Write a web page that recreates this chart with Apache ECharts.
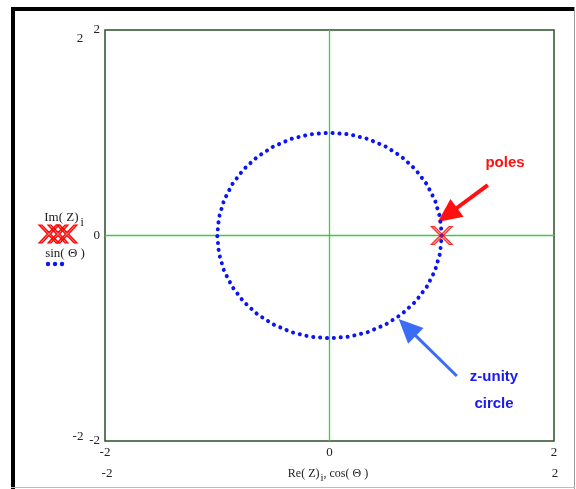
<!DOCTYPE html>
<html>
<head>
<meta charset="utf-8">
<script src="https://cdn.jsdelivr.net/npm/echarts@6/dist/echarts.min.js"></script>
<style>
  html, body { margin: 0; padding: 0; background: #fff; }
  #chart { width: 576px; height: 489px; }
</style>
</head>
<body>
<div id="chart"></div>
<script>
// Unit circle sampled every 10 degrees: cos(Θ), sin(Θ)
const cosTheta = [1, 0.985, 0.940, 0.866, 0.766, 0.643, 0.5, 0.342, 0.174, 0,
  -0.174, -0.342, -0.5, -0.643, -0.766, -0.866, -0.940, -0.985, -1,
  -0.985, -0.940, -0.866, -0.766, -0.643, -0.5, -0.342, -0.174, 0,
  0.174, 0.342, 0.5, 0.643, 0.766, 0.866, 0.940, 0.985, 1];
const sinTheta = [0, 0.174, 0.342, 0.5, 0.643, 0.766, 0.866, 0.940, 0.985, 1,
  0.985, 0.940, 0.866, 0.766, 0.643, 0.5, 0.342, 0.174, 0,
  -0.174, -0.342, -0.5, -0.643, -0.766, -0.866, -0.940, -0.985, -1,
  -0.985, -0.940, -0.866, -0.766, -0.643, -0.5, -0.342, -0.174, 0];

// Pole locations Z_i
const poleRe = [1.0];
const poleIm = [0];

// Axis limits and tick labels
const axisMin = -2;
const axisMax = 2;
const tickStep = 2;

const serif = '"Liberation Serif", "DejaVu Serif", serif';
const sans = '"Liberation Sans", Arial, sans-serif';

// outlined X used for the pole markers (20 x 18 box)
const xPts = [[0,0],[3,0],[10,7.5],[17,0],[20,0],[11.5,9],[20,18],[17,18],[10,10.5],[3,18],[0,18],[8.5,9]];
const xPath = 'path://M' + xPts.map(p => p[0] + ',' + p[1]).join(' L') + ' Z';

const circleData = cosTheta.map((c, k) => [c, sinTheta[k]]);
const poleData = poleRe.map((r, k) => [r, poleIm[k]]);

const chart = echarts.init(document.getElementById('chart'), null, { renderer: 'canvas' });

const axisLabelStyle = { fontFamily: serif, fontSize: 13, color: '#222' };

chart.setOption({
  animation: false,
  backgroundColor: '#fff',
  grid: {
    left: 105, top: 30, right: 22, bottom: 48,
    show: true, borderColor: '#2c4f2c', borderWidth: 1.5, backgroundColor: 'transparent'
  },
  xAxis: {
    type: 'value', min: axisMin, max: axisMax, interval: tickStep,
    axisLine: { show: false, onZero: false }, axisTick: { show: false }, splitLine: { show: false },
    axisLabel: Object.assign({ margin: 5 }, axisLabelStyle)
  },
  yAxis: {
    type: 'value', min: axisMin, max: axisMax, interval: tickStep,
    axisLine: { show: false, onZero: false }, axisTick: { show: false }, splitLine: { show: false },
    axisLabel: Object.assign({ margin: 5 }, axisLabelStyle)
  },
  series: [
    {
      // zero reference lines
      name: 'x0', type: 'line', silent: true, showSymbol: false, z: 10,
      data: [[0, axisMin], [0, axisMax]], lineStyle: { color: '#3ccc3c', width: 1.3, type: 'solid' }
    },
    {
      name: 'y0', type: 'line', silent: true, showSymbol: false, z: 10,
      data: [[axisMin, 0], [axisMax, 0]], lineStyle: { color: '#3ccc3c', width: 1.3, type: 'solid' }
    },
    {
      name: 'sin(Θ)',
      type: 'line',
      data: circleData,
      showSymbol: false,
      smooth: false,
      z: 11,
      lineStyle: { color: '#0a14f5', width: 4, type: [0.1, 6.8], cap: 'round' }
    },
    {
      name: 'Im(Z)',
      type: 'scatter',
      data: poleData,
      symbol: xPath,
      symbolSize: [21, 18],
      z: 12,
      itemStyle: { color: 'rgba(255,30,30,0.55)', borderColor: '#ff0000', borderWidth: 1.2 }
    }
  ]
});

function px(x, y) { return chart.convertToPixel({ gridIndex: 0 }, [x, y]); }

// arrow built from a data-space tail/tip pair
function arrow(tail, tip, color, width, headLen, headHalf) {
  const a = px(tail[0], tail[1]);
  const b = px(tip[0], tip[1]);
  const dx = b[0] - a[0], dy = b[1] - a[1];
  const len = Math.hypot(dx, dy);
  const ux = dx / len, uy = dy / len;
  const base = [b[0] - ux * headLen, b[1] - uy * headLen];
  const nx = -uy * headHalf, ny = ux * headHalf;
  return [
    { type: 'line', z: 10, shape: { x1: a[0], y1: a[1], x2: base[0] + ux * 2, y2: base[1] + uy * 2 },
      style: { stroke: color, lineWidth: width } },
    { type: 'polygon', z: 10, shape: { points: [b, [base[0] + nx, base[1] + ny], [base[0] - nx, base[1] - ny]] },
      style: { fill: color } }
  ];
}

const legendX = [49, 58, 67].map(cx => ({
  type: 'polygon', z: 10,
  shape: { points: xPts.map(p => [cx - 10 + p[0], 225 + p[1]]) },
  style: { fill: 'rgba(255,30,30,0.55)', stroke: '#ff0000', lineWidth: 1.2 }
}));

const legendDots = [48, 55, 62].map(cx => ({
  type: 'circle', z: 10, shape: { cx: cx, cy: 264, r: 2.2 }, style: { fill: '#0a14f5' }
}));

function txt(x, y, text, extra) {
  return { type: 'text', x: x, y: y, z: 10,
    style: Object.assign({ text: text, font: '13px ' + serif, fill: '#222', align: 'center', verticalAlign: 'middle' }, extra || {}) };
}

chart.setOption({
  graphic: [
    // page frame
    { type: 'rect', shape: { x: 11, y: 7, width: 564, height: 4 }, style: { fill: '#000' } },
    { type: 'rect', shape: { x: 11, y: 7, width: 4, height: 482 }, style: { fill: '#000' } },
    { type: 'rect', shape: { x: 574, y: 7, width: 1, height: 482 }, style: { fill: '#999' } },
    { type: 'rect', shape: { x: 11, y: 487, width: 564, height: 1 }, style: { fill: '#bbb' } },
    // duplicated range labels
    txt(80, 39, '2'),
    txt(78, 437, '-2'),
    txt(107, 474, '-2'),
    txt(555, 474, '2'),
    // x title
    {
      type: 'text', x: 328, y: 474, z: 10,
      style: {
        text: '{a|Re( Z)}{s|i}{a|, cos( Θ )}',
        align: 'center', verticalAlign: 'middle',
        rich: {
          a: { font: '12px ' + serif, fill: '#222' },
          s: { font: '11px ' + serif, fill: '#222', padding: [9, 0, 0, 1] }
        }
      }
    },
    // legend
    {
      type: 'text', x: 64, y: 218, z: 10,
      style: {
        text: '{a|Im( Z)}{s|i}',
        align: 'center', verticalAlign: 'middle',
        rich: {
          a: { font: '13px ' + serif, fill: '#222' },
          s: { font: '12px ' + serif, fill: '#222', padding: [9, 0, 0, 2] }
        }
      }
    },
    ...legendX,
    txt(65, 254, 'sin( Θ )', { font: '13px ' + serif }),
    ...legendDots,
    // annotations
    ...arrow([1.41, 0.49], [0.964, 0.131], '#ff1010', 4, 24, 11),
    txt(505, 163, 'poles', { font: 'bold 15px ' + sans, fill: '#ff1010' }),
    ...arrow([1.134, -1.367], [0.616, -0.813], '#3a6cf5', 3, 24, 11),
    txt(494, 377, 'z-unity', { font: 'bold 15px ' + sans, fill: '#1a1af0' }),
    txt(494, 404, 'circle', { font: 'bold 15px ' + sans, fill: '#1a1af0' })
  ]
});
</script>
</body>
</html>
